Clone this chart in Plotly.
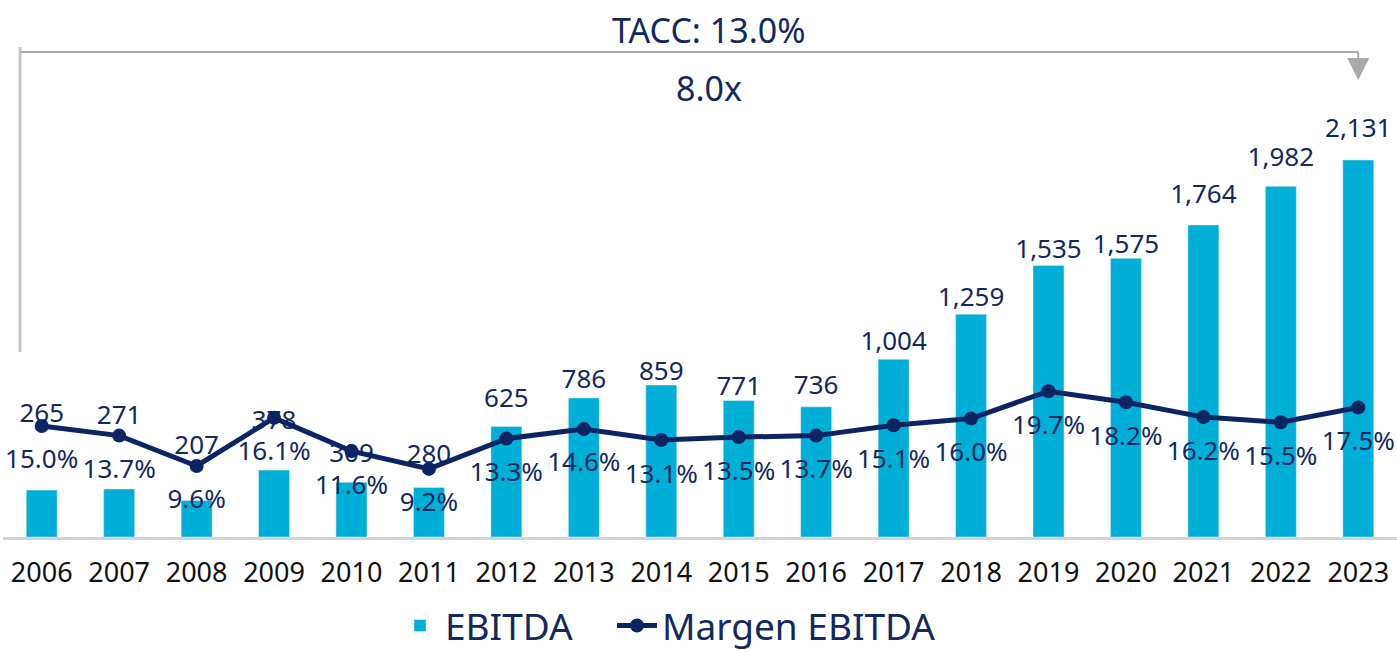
import plotly.graph_objects as go

years = ["2006", "2007", "2008", "2009", "2010", "2011", "2012", "2013", "2014",
         "2015", "2016", "2017", "2018", "2019", "2020", "2021", "2022", "2023"]
ebitda = [265, 271, 207, 378, 309, 280, 625, 786, 859, 771, 736, 1004, 1259,
          1535, 1575, 1764, 1982, 2131]
margen = [15.0, 13.7, 9.6, 16.1, 11.6, 9.2, 13.3, 14.6, 13.1, 13.5, 13.7, 15.1,
          16.0, 19.7, 18.2, 16.2, 15.5, 17.5]

# label offsets (pixels above bar top) - styling only
bar_label_shift = [75, 72, 53, 48, 27, 31, 26, 16, 12, 12, 19, 16, 15, 14, 12, 28, 27, 29]
pct_label_shift = 36

PLOT_H = 437
PLOT_W = 1394
Y1_MAX = 2470
Y2_MAX = 59.05
px1 = Y1_MAX / PLOT_H
px2 = Y2_MAX / PLOT_H
n = len(years)
last_x_paper = (n - 0.5) / n

CYAN = "#00afd7"
NAVY = "#0c2461"
TXT = "#14285e"
FONT = "Noto Sans"

fig = go.Figure()
fig.add_trace(go.Bar(x=years, y=ebitda, name="EBITDA", marker=dict(color=CYAN),
                     yaxis="y", hoverinfo="skip", legend="legend"))
fig.add_trace(go.Scatter(
    x=years, y=[v + s * px1 for v, s in zip(ebitda, bar_label_shift)],
    mode="text", text=[f"{v:,}" for v in ebitda], textposition="middle center",
    textfont=dict(family=FONT, size=26, color=TXT), showlegend=False,
    yaxis="y", cliponaxis=False, hoverinfo="skip"))
fig.add_trace(go.Scatter(
    x=years, y=[m - pct_label_shift * px2 for m in margen],
    mode="text", text=[f"{m:.1f}%" for m in margen], textposition="middle center",
    textfont=dict(family=FONT, size=26, color=TXT), showlegend=False,
    yaxis="y2", cliponaxis=False, hoverinfo="skip"))
fig.add_trace(go.Scatter(
    x=years, y=margen, name="Margen EBITDA", mode="lines+markers",
    line=dict(color=NAVY, width=5), marker=dict(color=NAVY, size=14),
    yaxis="y2", cliponaxis=False, legend="legend2"))

# bracket
fig.add_shape(type="line", xref="paper", yref="paper", x0=0.0122, x1=0.0122,
              y0=(537 - 352) / PLOT_H, y1=(537 - 47) / PLOT_H,
              line=dict(color="#c6c6c6", width=3))
fig.add_shape(type="line", xref="paper", yref="paper", x0=0.0122, x1=last_x_paper,
              y0=(537 - 52) / PLOT_H, y1=(537 - 52) / PLOT_H,
              line=dict(color="#a9a9a9", width=2))
fig.add_annotation(x=last_x_paper, xref="paper", y=(537 - 80) / PLOT_H, yref="paper",
                   ax=0, ay=-29, showarrow=True, arrowhead=2, arrowsize=2.2,
                   arrowwidth=2, arrowcolor="#a9a9a9", text="")
fig.add_annotation(x=(709 - 3) / PLOT_W, xref="paper", y=(537 - 30) / PLOT_H, yref="paper",
                   xanchor="center", yanchor="middle",
                   text="TACC: 13.0%", showarrow=False,
                   font=dict(family=FONT, size=34, color=TXT))
fig.add_annotation(x=(709 - 3) / PLOT_W, xref="paper", y=(537 - 88) / PLOT_H, yref="paper",
                   xanchor="center", yanchor="middle",
                   text="8.0x", showarrow=False,
                   font=dict(family=FONT, size=34, color=TXT))

legend_common = dict(orientation="h", yanchor="middle", y=(537 - 626) / PLOT_H,
                     font=dict(family=FONT, size=37, color=TXT), itemwidth=40,
                     bgcolor="rgba(0,0,0,0)")
fig.update_layout(
    width=1397, height=650,
    margin=dict(l=3, r=0, t=100, b=113, autoexpand=False),
    plot_bgcolor="white", paper_bgcolor="white",
    bargap=0.6,
    xaxis=dict(type="category", range=[-0.5, n - 0.5], showgrid=False, showline=True,
               linecolor="#d4d4d4", linewidth=3, ticks="", ticklabelstandoff=10,
               tickfont=dict(family=FONT, size=27, color="#111111")),
    yaxis=dict(range=[0, Y1_MAX], visible=False, showgrid=False),
    yaxis2=dict(range=[0, Y2_MAX], visible=False, overlaying="y", showgrid=False),
    showlegend=True,
    legend=dict(x=(395 - 3) / PLOT_W, xanchor="left", **legend_common),
    legend2=dict(x=(612 - 3) / PLOT_W, xanchor="left", **legend_common),
)

fig.write_html("out.html", post_script="document.body.style.margin='0';",
               config={"displayModeBar": False})
